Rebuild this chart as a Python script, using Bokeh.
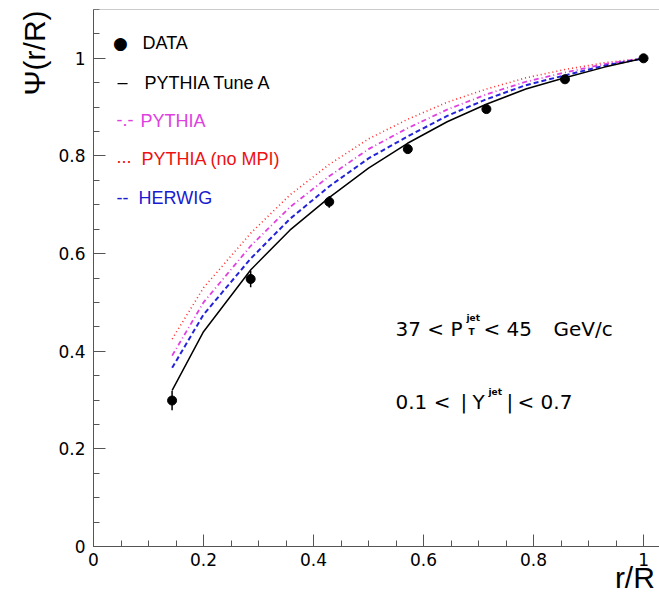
import numpy as np
from bokeh.plotting import figure
from bokeh.models import Range1d, FixedTicker, CustomJSTickFormatter, Label, Span
from bokeh.embed import file_html
from bokeh.resources import INLINE

# ---- data ----
r_data = [1/7, 2/7, 3/7, 4/7, 5/7, 6/7, 1.0]
psi_data = [0.299, 0.548, 0.706, 0.814, 0.896, 0.957, 1.0]
psi_err = [0.020, 0.017, 0.012, 0.008, 0.006, 0.005, 0.0]

r_mc = [0.143, 0.2, 0.286, 0.357, 0.429, 0.5, 0.571, 0.643, 0.714, 0.786, 0.857, 0.929, 1.0]
psi_tuneA = [0.320, 0.440, 0.567, 0.648, 0.715, 0.775, 0.826, 0.870, 0.906, 0.937, 0.960, 0.982, 1.0]
psi_herwig = [0.366, 0.475, 0.590, 0.671, 0.738, 0.795, 0.840, 0.882, 0.916, 0.945, 0.965, 0.985, 1.0]
psi_pythia = [0.391, 0.500, 0.616, 0.695, 0.759, 0.814, 0.857, 0.895, 0.926, 0.952, 0.971, 0.988, 1.0]
psi_nompi = [0.425, 0.530, 0.642, 0.720, 0.783, 0.835, 0.875, 0.910, 0.937, 0.960, 0.977, 0.991, 1.0]

major_ticks = [0, 0.2, 0.4, 0.6, 0.8, 1.0]
x_title = "r/R"
y_title = "\u03A8(r/R)"

X0, X1 = 0.0, 1.029
Y0, Y1 = 0.0, 1.1
LEFT, TOP, BOTTOM = 93, 9, 59
W, H = 659, 605

p = figure(width=W, height=H, x_range=Range1d(X0, X1), y_range=Range1d(Y0, Y1),
           output_backend="svg", toolbar_location=None, title=None,
           min_border_left=LEFT, min_border_right=0, min_border_top=TOP,
           min_border_bottom=BOTTOM)
p.background_fill_color = "white"
p.border_fill_color = "white"
p.outline_line_color = None
p.xgrid.visible = False
p.ygrid.visible = False

fmt = CustomJSTickFormatter(code="if (Math.abs(tick) < 1e-9) return '0'; if (Math.abs(tick-1) < 1e-9) return '1'; return tick.toFixed(1);")
minor_x = [round(v, 3) for v in np.arange(0, 1.0001, 0.05)]
minor_y = [round(v, 3) for v in np.arange(0, 1.1001, 0.05)]
for ax, mnr in ((p.xaxis[0], minor_x), (p.yaxis[0], minor_y)):
    ax.ticker = FixedTicker(ticks=major_ticks, minor_ticks=mnr)
    ax.formatter = fmt
    ax.major_tick_in = 12
    ax.major_tick_out = 0
    ax.minor_tick_in = 6
    ax.minor_tick_out = 0
    ax.axis_line_color = "#555555"
    ax.major_tick_line_color = "#555555"
    ax.minor_tick_line_color = "#555555"
    ax.major_label_text_font = "DejaVu Sans"
    ax.major_label_text_font_size = "17px"
    ax.major_label_text_color = "black"
    ax.axis_label_text_font = "Liberation Sans"
    ax.axis_label_text_font_size = "30px"
    ax.axis_label_text_font_style = "normal"
    ax.axis_label_text_color = "black"

NB = "\u00A0"
p.xaxis[0].major_label_standoff = 6
p.xaxis[0].axis_label = NB * 62 + x_title
p.xaxis[0].axis_label_standoff = -8
p.yaxis[0].major_label_standoff = 8
p.yaxis[0].axis_label = NB * 54 + y_title
p.yaxis[0].axis_label_standoff = 4

# top frame line
p.add_layout(Span(location=Y1, dimension="width", line_color="#999999", line_width=1))

# curves
p.line(r_mc, psi_nompi, line_color="#ff2a2a", line_dash="1 3", line_width=1.6)
p.line(r_mc, psi_pythia, line_color="#e040e0", line_dash="5 3 1 3", line_width=1.8)
p.line(r_mc, psi_herwig, line_color="#2323d8", line_dash="5 3", line_width=2)
p.line(r_mc, psi_tuneA, line_color="black", line_width=1.5)

# data with error bars
lo = [v - e for v, e in zip(psi_data, psi_err)]
hi = [v + e for v, e in zip(psi_data, psi_err)]
p.segment(x0=r_data, y0=lo, x1=r_data, y1=hi, line_color="black", line_width=1.5)
p.scatter(r_data, psi_data, size=9, fill_color="black", line_color="black")

# ---- text helpers (pixel -> data) ----
fw = W - LEFT
fh = H - TOP - BOTTOM
def dx(px):
    return X0 + (px - LEFT) / fw * (X1 - X0)
def dy(py):
    return Y0 + (H - BOTTOM - py) / fh * (Y1 - Y0)

def lab(text, px, py, color="black", size="18px", font="Liberation Sans",
        align="left", baseline="middle", angle=0, style="normal"):
    p.add_layout(Label(x=dx(px), y=dy(py), text=text, text_color=color,
                       text_font_size=size, text_font=font, text_align=align,
                       text_baseline=baseline, angle=angle, text_font_style=style))

# legend
lab("\u25CF", 120, 42, size="17px", font="DejaVu Sans", align="center")
lab("DATA", 142, 42)
lab("\u2013", 117, 81)
lab("PYTHIA Tune A", 144, 82)
lab("-.-", 116, 119, color="#e040e0")
lab("PYTHIA", 140, 120, color="#e040e0")
lab("...", 116, 156, color="#ee1111")
lab("PYTHIA (no MPI)", 141, 158, color="#ee1111")
lab("--", 116, 197, color="#1a1ad0")
lab("HERWIG", 138, 197, color="#1a1ad0")

# annotations
AF = "DejaVu Sans"
AS = "20px"
lab("37 < P", 395, 328, size=AS, font=AF, baseline="alphabetic")
lab("jet", 466, 317, size="9px", font=AF, baseline="alphabetic", style="bold")
lab("T", 468, 331, size="9px", font=AF, baseline="alphabetic", style="bold")
lab("< 45", 483, 328, size=AS, font=AF, baseline="alphabetic")
lab("GeV/c", 553, 328, size=AS, font=AF, baseline="alphabetic")

lab("0.1 <", 395, 401, size=AS, font=AF, baseline="alphabetic")
lab("|", 460, 401, size=AS, font=AF, baseline="alphabetic")
lab("Y", 472, 401, size=AS, font=AF, baseline="alphabetic")
lab("jet", 488, 391, size="9px", font=AF, baseline="alphabetic", style="bold")
lab("|", 506, 401, size=AS, font=AF, baseline="alphabetic")
lab("< 0.7", 517, 401, size=AS, font=AF, baseline="alphabetic")

open("out.html", "w").write(file_html(p, INLINE))
